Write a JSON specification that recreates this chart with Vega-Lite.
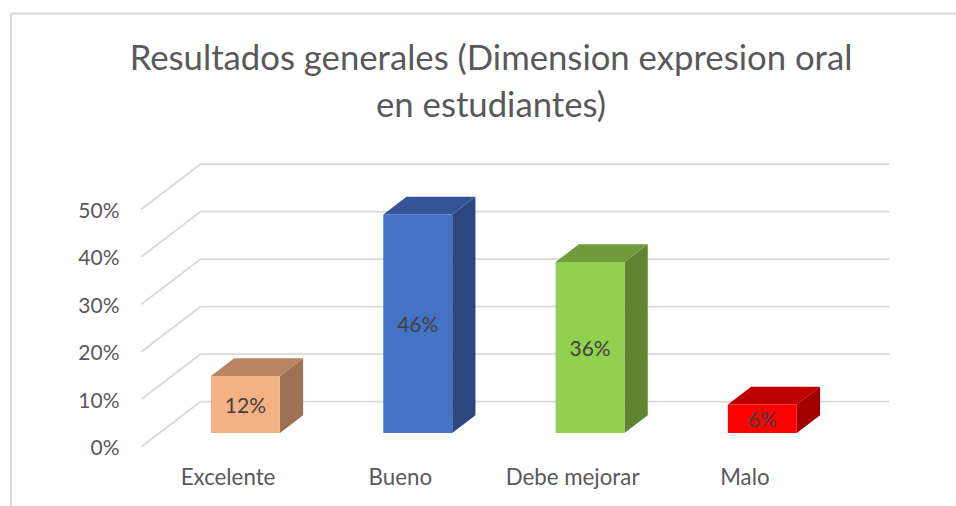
{
"$schema":"https://vega.github.io/schema/vega-lite/v6.json",
"width":956,"height":506,"autosize":{"type":"none"},"padding":0,"background":"white",
"config":{"view":{"stroke":null},"font":"Lato"},
"title":{"text":["Resultados generales (Dimension expresion oral","en estudiantes)"],"font":"Lato","fontSize":34.7,"fontWeight":"normal","color":"#595959","anchor":"middle","dx":13,"offset":-125,"lineHeight":47},
"datasets":{
"barras":[{"categoria":"Excelente","valor":12},{"categoria":"Bueno","valor":46},{"categoria":"Debe mejorar","valor":36},{"categoria":"Malo","valor":6}],
"niveles":[{"nivel":0},{"nivel":10},{"nivel":20},{"nivel":30},{"nivel":40},{"nivel":50}],
"marco":[{"borde":"marco"}]
},
"data":{"name":"barras"},
"encoding":{
"x":{"type":"quantitative","scale":{"domain":[-1.3204,4.228],"nice":false,"zero":false},"title":null,"axis":{"values":[0,1,2,3],"labelExpr":"['Excelente','Bueno','Debe mejorar','Malo'][datum.value]","orient":"bottom","offset":-40,"domain":false,"ticks":false,"grid":false,"labelPadding":0,"labelFont":"Lato","labelFontSize":22.3,"labelColor":"#595959","labelBaseline":"top","labelOverlap":false,"labelFlush":false,"title":null}},
"y":{"type":"quantitative","scale":{"domain":[-12.48,94.04],"nice":false,"zero":false},"title":null,"axis":{"values":[0,10,20,30,40,50],"labelExpr":"datum.value+'%'","orient":"left","offset":-119,"domain":false,"ticks":false,"grid":false,"labelPadding":0,"labelOffset":2,"labelFont":"Lato","labelFontSize":21,"labelColor":"#595959","title":null}}
},
"layer":[
{"data":{"name":"marco"},"transform":[{"calculate":"-1.2565","as":"xa"},{"calculate":"4.228","as":"xb"},{"calculate":"91.2","as":"ya"}],"mark":{"type":"rule","color":"#d9d9d9","strokeWidth":2},"encoding":{"x":{"field":"xa","type":"quantitative"},"x2":{"field":"xb"},"y":{"field":"ya","type":"quantitative"}}},
{"data":{"name":"marco"},"transform":[{"calculate":"-1.2565","as":"xa"},{"calculate":"-12.48","as":"yb"},{"calculate":"91.2","as":"ya"}],"mark":{"type":"rule","color":"#d9d9d9","strokeWidth":2},"encoding":{"x":{"field":"xa","type":"quantitative"},"y":{"field":"ya","type":"quantitative"},"y2":{"field":"yb"}}},
{"data":{"name":"niveles"},"transform":[{"calculate":"datum.nivel+9.47","as":"fondo"},{"calculate":"-0.5","as":"xa"},{"calculate":"-0.1576","as":"xb"}],"mark":{"type":"rule","color":"#d9d9d9","strokeWidth":1.75},"encoding":{"x":{"field":"xa","type":"quantitative"},"x2":{"field":"xb"},"y":{"field":"nivel","type":"quantitative"},"y2":{"field":"fondo"}}},
{"data":{"name":"niveles"},"transform":[{"calculate":"datum.nivel+9.47","as":"fondo"},{"calculate":"-0.1576","as":"xa"},{"calculate":"3.8424","as":"xb"}],"mark":{"type":"rule","color":"#d9d9d9","strokeWidth":1.75},"encoding":{"x":{"field":"xa","type":"quantitative"},"x2":{"field":"xb"},"y":{"field":"fondo","type":"quantitative"}}},
{"transform":[{"calculate":"indexof(['Excelente','Bueno','Debe mejorar','Malo'],datum.categoria)","as":"i"},{"calculate":"[0,1]","as":"t"},{"flatten":["t"]},{"calculate":"datum.i+0.2+0.1042+datum.t*0.1348","as":"xs"},{"calculate":"2.88+datum.t*3.73","as":"y0"},{"calculate":"datum.valor+2.88+datum.t*3.73","as":"y1"},{"calculate":"datum.categoria+' lado'","as":"cara"}],
"mark":{"type":"area","orient":"vertical"},"encoding":{"x":{"field":"xs","type":"quantitative"},"y":{"field":"y0","type":"quantitative","stack":null},"y2":{"field":"y1"},"color":{"field":"cara","type":"nominal","legend":null}}},
{"transform":[{"calculate":"indexof(['Excelente','Bueno','Debe mejorar','Malo'],datum.categoria)","as":"i"},{"calculate":"[0,1]","as":"t"},{"flatten":["t"]},{"calculate":"datum.i-0.2+0.1042+datum.t*0.1348","as":"x0"},{"calculate":"datum.i+0.2+0.1042+datum.t*0.1348","as":"x1"},{"calculate":"datum.valor+2.88+datum.t*3.73","as":"yt"},{"calculate":"datum.categoria+' techo'","as":"cara"}],
"mark":{"type":"area","orient":"horizontal"},"encoding":{"y":{"field":"yt","type":"quantitative"},"x":{"field":"x0","type":"quantitative","stack":null},"x2":{"field":"x1"},"color":{"field":"cara","type":"nominal","legend":null}}},
{"transform":[{"calculate":"indexof(['Excelente','Bueno','Debe mejorar','Malo'],datum.categoria)","as":"i"},{"calculate":"datum.i-0.2+0.1042","as":"x0"},{"calculate":"datum.i+0.2+0.1042","as":"x1"},{"calculate":"2.88","as":"y0"},{"calculate":"datum.valor+2.88","as":"y1"},{"calculate":"datum.categoria+' frente'","as":"cara"}],
"mark":{"type":"rect"},"encoding":{"x":{"field":"x0","type":"quantitative"},"x2":{"field":"x1"},"y":{"field":"y0","type":"quantitative"},"y2":{"field":"y1"},"color":{"field":"cara","type":"nominal","legend":null,"scale":{"domain":["Excelente frente","Bueno frente","Debe mejorar frente","Malo frente","Excelente lado","Bueno lado","Debe mejorar lado","Malo lado","Excelente techo","Bueno techo","Debe mejorar techo","Malo techo"],"range":["#F4B183","#4472C4","#92D050","#FF0000","#9C7253","#2A4780","#5F8532","#A00000","#BA8462","#335496","#709C3C","#BF0000"]}}}},
{"transform":[{"calculate":"indexof(['Excelente','Bueno','Debe mejorar','Malo'],datum.categoria)","as":"i"},{"calculate":"datum.i+0.1042","as":"xc"},{"calculate":"datum.valor/2+2.88","as":"yc"},{"calculate":"datum.valor+'%'","as":"etiqueta"}],
"mark":{"type":"text","font":"Lato","fontSize":21,"color":"#404040","align":"center","baseline":"middle","dy":2},"encoding":{"x":{"field":"xc","type":"quantitative"},"y":{"field":"yc","type":"quantitative"},"text":{"field":"etiqueta"}}}
]
}
